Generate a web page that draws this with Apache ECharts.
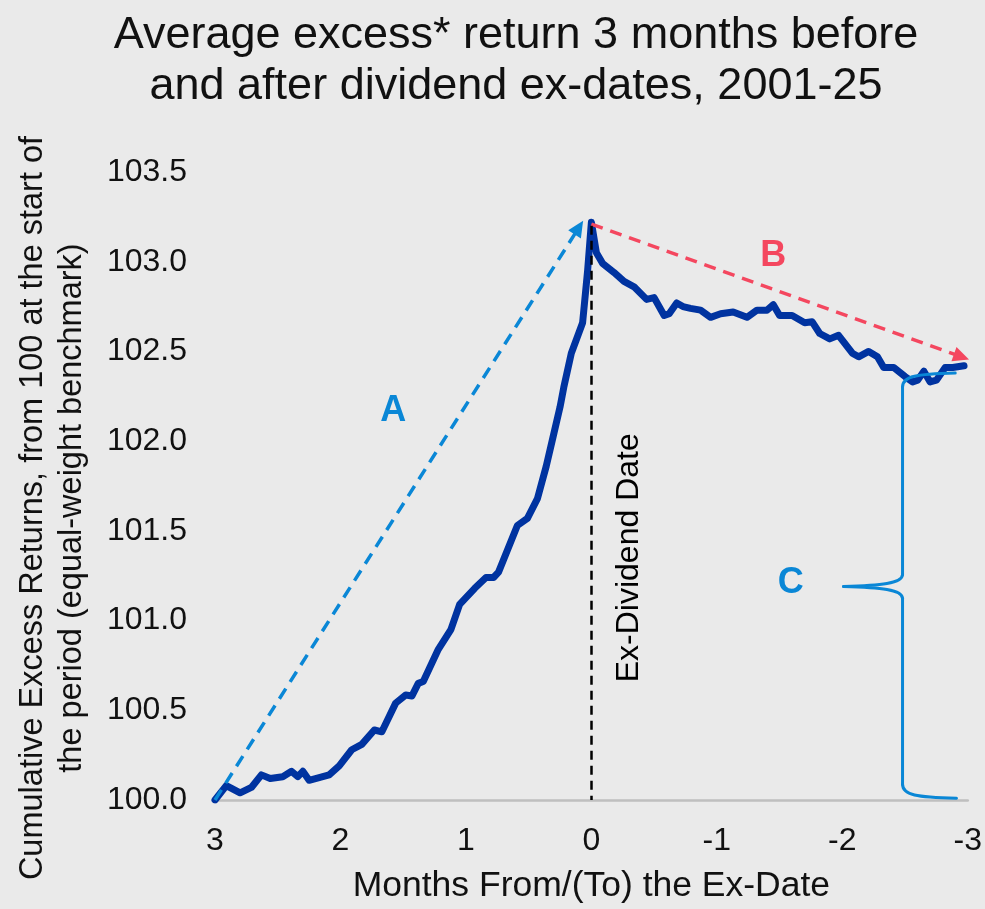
<!DOCTYPE html>
<html>
<head>
<meta charset="utf-8">
<script src="https://cdn.jsdelivr.net/npm/echarts@6/dist/echarts.min.js"></script>
<style>
html,body{margin:0;padding:0;background:#EAEAEA;}
#chart{width:985px;height:909px;}
</style>
</head>
<body>
<div id="chart"></div>
<script>
// ---- Text ----
const titleText = 'Average excess* return 3 months before\nand after dividend ex-dates, 2001-25';
const yAxisTitle = 'Cumulative Excess Returns, from 100 at the start of\nthe period (equal-weight benchmark)';
const xAxisTitle = 'Months From/(To) the Ex-Date';
const exDateLabel = 'Ex-Dividend Date';

// ---- Axis ticks ----
const xTicks = [3, 2, 1, 0, -1, -2, -3];
const yTicks = [100.0, 100.5, 101.0, 101.5, 102.0, 102.5, 103.0, 103.5];

// ---- Series data (months relative to ex-date, cumulative excess return) ----
const months = [
  3.00, 2.91, 2.80, 2.71, 2.63, 2.56, 2.46, 2.39, 2.34, 2.30, 2.25, 2.09, 2.01, 1.91, 1.83,
  1.73, 1.67, 1.56, 1.48, 1.43, 1.38, 1.34, 1.22, 1.12, 1.05, 0.93, 0.84, 0.78, 0.74, 0.59,
  0.51, 0.43, 0.36, 0.31, 0.25, 0.22, 0.16, 0.07, 0.03, 0.00,
  -0.04, -0.09, -0.18, -0.26, -0.34, -0.44, -0.50, -0.58, -0.62, -0.68, -0.73, -0.79, -0.87,
  -0.95, -1.03, -1.13, -1.24, -1.32, -1.40, -1.45, -1.50, -1.60, -1.70, -1.76, -1.82, -1.90,
  -1.97, -2.08, -2.13, -2.21, -2.28, -2.33, -2.41, -2.50, -2.56, -2.60, -2.65, -2.70, -2.75,
  -2.82, -2.88, -2.97
];
const excessReturn = [
  100.00, 100.08, 100.04, 100.07, 100.14, 100.12, 100.13, 100.16, 100.13, 100.16, 100.11, 100.14, 100.19, 100.28, 100.31,
  100.39, 100.38, 100.54, 100.585, 100.58, 100.65, 100.66, 100.84, 100.95, 101.09, 101.18, 101.24, 101.24, 101.27, 101.53,
  101.57, 101.68, 101.86, 102.01, 102.19, 102.30, 102.49, 102.66, 102.95, 103.22,
  103.05, 102.99, 102.94, 102.89, 102.86, 102.79, 102.80, 102.70, 102.71, 102.77, 102.75, 102.74, 102.73,
  102.69, 102.71, 102.72, 102.69, 102.73, 102.73, 102.76, 102.70, 102.70, 102.66, 102.665, 102.60, 102.57,
  102.59, 102.49, 102.47, 102.50, 102.47, 102.41, 102.41, 102.36, 102.33, 102.34, 102.39, 102.33, 102.34,
  102.41, 102.41, 102.42
];

// ---- Annotation anchors (data coordinates) ----
const arrowAStart = [3, 100.0];
const arrowAEnd = [0.10, 103.19];
const arrowBStart = [0.0, 103.21];
const arrowBEnd = [-2.95, 102.47];
const exLineTop = [0, 103.2];
const exLineBottom = [0, 100.0];
const labelA = ['A', 1.58, 102.17];
const labelB = ['B', -1.45, 103.03];
const labelC = ['C', -1.59, 101.21];
const exLabelPos = [-0.30, 101.35];
const braceTop = [-2.90, 102.38];
const braceBottom = [-2.91, 100.01];
const braceSpineX = -2.48;
const braceTip = [-2.01, 101.19];

const FONT = "'Liberation Sans', Arial, Helvetica, sans-serif";
const BLUE = '#0A87D6';
const PINK = '#F4475F';
const NAVY = '#0033A0';

const pairs = months.map((m, i) => [m, excessReturn[i]]);

const chart = echarts.init(document.getElementById('chart'), null, {renderer: 'canvas'});

const option = {
  backgroundColor: '#EAEAEA',
  animation: false,
  title: {
    text: titleText,
    left: 511,
    top: 5,
    textAlign: 'center',
    textStyle: {fontFamily: FONT, fontSize: 45, fontWeight: 'normal', color: '#111', lineHeight: 51}
  },
  grid: {left: 215, right: 14, top: 172, bottom: 109, containLabel: false},
  xAxis: {
    type: 'value',
    min: -3, max: 3, interval: 1, inverse: true,
    name: xAxisTitle, nameLocation: 'middle', nameGap: 68,
    nameTextStyle: {fontFamily: FONT, fontSize: 35.5, color: '#111'},
    axisLine: {show: true, onZero: false, lineStyle: {color: '#BFBFBF', width: 2.5}},
    axisTick: {show: false},
    splitLine: {show: false},
    axisLabel: {fontFamily: FONT, fontSize: 32, color: '#111', margin: 25,
      formatter: v => xTicks.includes(v) ? String(v) : ''}
  },
  yAxis: {
    type: 'value',
    min: 100, max: 103.5, interval: 0.5,
    axisLine: {show: false},
    axisTick: {show: false},
    splitLine: {show: false},
    axisLabel: {fontFamily: FONT, fontSize: 32, color: '#111', margin: 28,
      formatter: v => yTicks.includes(Math.round(v * 10) / 10) ? v.toFixed(1) : ''}
  },
  series: [
    {
      name: 'Excess return',
      type: 'line',
      data: pairs,
      showSymbol: false,
      symbol: 'none',
      smooth: false,
      z: 3,
      lineStyle: {color: NAVY, width: 7, cap: 'round', join: 'round'}
    },
    {
      name: 'annotations',
      type: 'line',
      data: [],
      z: 5,
      markLine: {
        silent: true,
        animation: false,
        label: {show: false},
        emphasis: {disabled: true},
        data: [
          [
            {coord: arrowAStart, symbol: 'none', lineStyle: {color: BLUE, width: 3.5, type: [12, 8]}},
            {coord: arrowAEnd, symbol: 'triangle', symbolSize: [15, 16]}
          ],
          [
            {coord: arrowBStart, symbol: 'none', lineStyle: {color: PINK, width: 3.5, type: [12, 8]}},
            {coord: arrowBEnd, symbol: 'triangle', symbolSize: [15, 16]}
          ],
          [
            {coord: exLineTop, symbol: 'none', lineStyle: {color: '#000', width: 2.5, type: [9, 6]}},
            {coord: exLineBottom, symbol: 'none'}
          ]
        ]
      }
    }
  ]
};
chart.setOption(option);

function px(p) { return chart.convertToPixel({gridIndex: 0}, p); }

function drawAnnotations() {
  const a = px([labelA[1], labelA[2]]);
  const b = px([labelB[1], labelB[2]]);
  const c = px([labelC[1], labelC[2]]);
  const ex = px(exLabelPos);
  const bt = px(braceTop);
  const bb = px(braceBottom);
  const tip = px(braceTip);
  const sx = px([braceSpineX, 101])[0];
  const ty = bt[1], by = bb[1], my = tip[1];
  const braceStyle = {stroke: BLUE, lineWidth: 3, fill: null, lineCap: 'round'};
  const curve = (x1, y1, c1x, c1y, c2x, c2y, x2, y2) => ({
    type: 'bezierCurve', z: 6, silent: true,
    shape: {x1: x1, y1: y1, cpx1: c1x, cpy1: c1y, cpx2: c2x, cpy2: c2y, x2: x2, y2: y2},
    style: braceStyle
  });
  const seg = (x1, y1, x2, y2) => ({
    type: 'line', z: 6, silent: true,
    shape: {x1: x1, y1: y1, x2: x2, y2: y2},
    style: braceStyle
  });

  const txt = (t, p, color) => ({
    type: 'text', x: p[0], y: p[1], z: 10,
    style: {text: t, fill: color, font: "bold 36px " + FONT, textAlign: 'center', textVerticalAlign: 'middle'}
  });

  chart.setOption({
    graphic: [
      txt(labelA[0], a, BLUE),
      txt(labelB[0], b, PINK),
      txt(labelC[0], c, BLUE),
      {
        type: 'text', x: ex[0], y: ex[1], rotation: Math.PI / 2, z: 10,
        style: {text: exDateLabel, fill: '#000', font: "32px " + FONT, textAlign: 'center', textVerticalAlign: 'middle'}
      },
      {
        type: 'text', x: 53, y: 508, rotation: Math.PI / 2, z: 10,
        style: {text: yAxisTitle, fill: '#111', font: "32.5px " + FONT, lineHeight: 39, textAlign: 'center', textVerticalAlign: 'middle'}
      },
      curve(bt[0], ty, sx + 14, ty + 1, sx, ty + 3, sx, ty + 14),
      seg(sx, ty + 14, sx, my - 12),
      curve(sx, my - 12, sx, my - 3, sx - 22, my - 1, tip[0], my),
      curve(tip[0], my, sx - 22, my + 1, sx, my + 3, sx, my + 12),
      seg(sx, my + 12, sx, by - 14),
      curve(sx, by - 14, sx, by - 3, sx + 14, by - 1, bb[0], by)
    ]
  });
}
drawAnnotations();
</script>
</body>
</html>
